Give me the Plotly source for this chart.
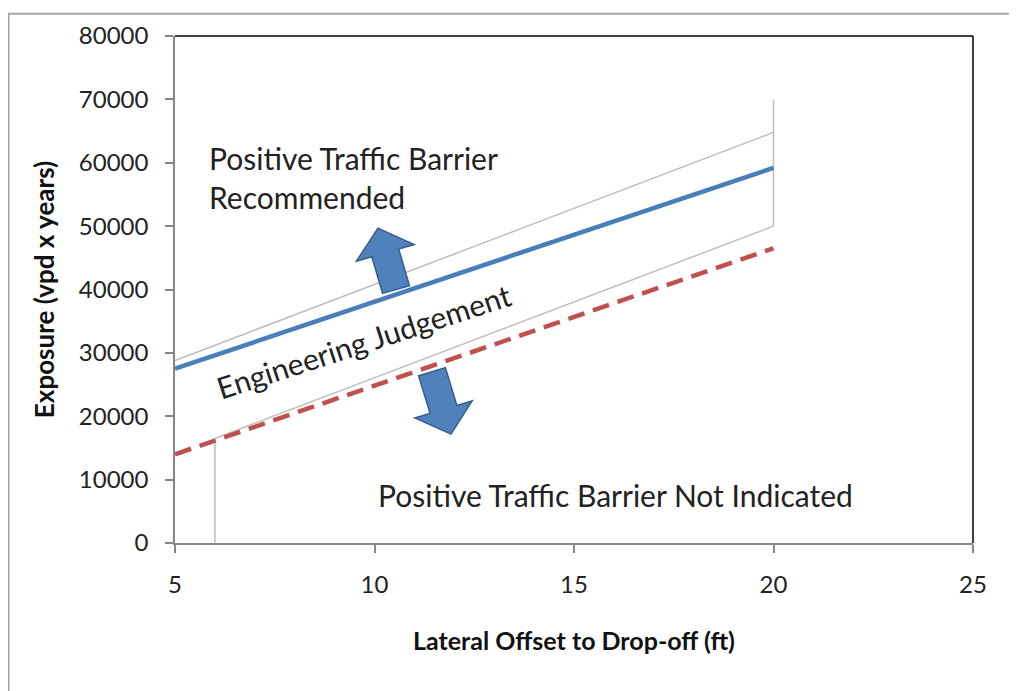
import math
import plotly.graph_objects as go

# ---- data ----
offset_x = [5, 20]
threshold_y = [27500, 59200]          # blue solid
upper_x = [5, 20]
upper_y = [28800, 64800]              # upper thin gray
lower_x = [6, 20]
lower_y = [16500, 50000]              # lower thin gray
not_ind_x = [5, 20]
not_ind_y = [14000, 46500]            # red dashed
vert_right_x = [20, 20]
vert_right_y = [50000, 70000]
vert_left_x = [6, 6]
vert_left_y = [0, 16500]

x_ticks = [5, 10, 15, 20, 25]
y_ticks = [0, 10000, 20000, 30000, 40000, 50000, 60000, 70000, 80000]

# page has an 8px body margin
OFF = 8
W, H = 1017, 691
ML, MT = 175 - OFF, 31 - OFF
MR = W - (973 - OFF)
MB = H - (543 - OFF)
PW, PH = W - ML - MR, H - MT - MB

def px2paper(px, py):
    # px, py in page pixels
    fx, fy = px - OFF, py - OFF
    return (fx - ML) / PW, (H - MB - fy) / PH

def block_arrow(bx, by, tx, ty, head_w=60, head_l=26, shaft_w=28):
    dx, dy = tx - bx, ty - by
    L = math.hypot(dx, dy)
    ux, uy = dx / L, dy / L
    nx, ny = -uy, ux
    pts_local = [(-shaft_w / 2, 0), (-shaft_w / 2, L - head_l), (-head_w / 2, L - head_l),
                 (0, L), (head_w / 2, L - head_l), (shaft_w / 2, L - head_l), (shaft_w / 2, 0)]
    path = ""
    for i, (a, b) in enumerate(pts_local):
        px = bx + nx * a + ux * b
        py = by + ny * a + uy * b
        xp, yp = px2paper(px, py)
        path += ("M" if i == 0 else "L") + f"{xp:.5f},{yp:.5f} "
    return path + "Z"

GRAY = "#BDBDBD"
BLUE = "#4A7EBB"
RED = "#C0504D"

fig = go.Figure()
fig.add_trace(go.Scatter(x=upper_x, y=upper_y, mode="lines", line=dict(color=GRAY, width=1.5), hoverinfo="skip"))
fig.add_trace(go.Scatter(x=lower_x, y=lower_y, mode="lines", line=dict(color=GRAY, width=1.5), hoverinfo="skip"))
fig.add_trace(go.Scatter(x=vert_right_x, y=vert_right_y, mode="lines", line=dict(color=GRAY, width=1.5), hoverinfo="skip"))
fig.add_trace(go.Scatter(x=vert_left_x, y=vert_left_y, mode="lines", line=dict(color=GRAY, width=1.5), hoverinfo="skip"))
fig.add_trace(go.Scatter(x=not_ind_x, y=not_ind_y, mode="lines", line=dict(color=RED, width=4.5, dash="17px,9px"), hoverinfo="skip"))
fig.add_trace(go.Scatter(x=offset_x, y=threshold_y, mode="lines", line=dict(color=BLUE, width=4.5), hoverinfo="skip"))

shapes = [
    # outer frame
    dict(type="rect", xref="paper", yref="paper",
         x0=px2paper(8.5, 0)[0], x1=px2paper(1010, 0)[0],
         y0=px2paper(0, 730)[1], y1=px2paper(0, 8.5)[1],
         line=dict(color="#A6A6A6", width=2), layer="below"),
    # top and right black border
    dict(type="line", xref="paper", yref="paper", x0=0, x1=1, y0=1, y1=1, line=dict(color="black", width=1.5)),
    dict(type="line", xref="paper", yref="paper", x0=1, x1=1, y0=0, y1=1, line=dict(color="black", width=1.5)),
    # block arrows
    dict(type="path", xref="paper", yref="paper", path=block_arrow(396, 287, 378, 225),
         fillcolor="#4F81BD", line=dict(color="#385D8A", width=1.5)),
    dict(type="path", xref="paper", yref="paper", path=block_arrow(432, 370, 451, 433),
         fillcolor="#4F81BD", line=dict(color="#385D8A", width=1.5)),
]

FONT = "Lato, Carlito, Calibri, sans-serif"
annotations = [
    dict(x=5.8, y=57700, xref="x", yref="y", text="Positive Traffic Barrier<br>Recommended",
         showarrow=False, xanchor="left", yanchor="middle", align="left",
         font=dict(family=FONT, size=30, color="#222")),
    dict(x=9.72, y=31900, xref="x", yref="y", text="Engineering Judgement",
         showarrow=False, textangle=-18, font=dict(family=FONT, size=30, color="#222")),
    dict(x=16.03, y=7500, xref="x", yref="y", text="Positive Traffic Barrier Not Indicated",
         showarrow=False, font=dict(family=FONT, size=30, color="#222")),
]

fig.update_layout(
    width=W, height=H,
    margin=dict(l=ML, r=MR, t=MT, b=MB),
    paper_bgcolor="white", plot_bgcolor="white",
    showlegend=False,
    shapes=shapes, annotations=annotations,
    font=dict(family=FONT, color="#222"),
    xaxis=dict(range=[5, 25], tickvals=x_ticks, ticktext=[str(v) for v in x_ticks],
               showgrid=False, zeroline=False, showline=True, linecolor="#868686", linewidth=1.5,
               ticks="outside", ticklen=8, tickcolor="#868686", tickwidth=1.5,
               ticklabelstandoff=11, tickfont=dict(size=24, family=FONT, color="#222"),
               title=dict(text="<b>Lateral Offset to Drop-off (ft)</b>", standoff=36,
                          font=dict(size=25, family=FONT, color="#111"))),
    yaxis=dict(range=[0, 80000], tickvals=y_ticks, ticktext=[str(v) for v in y_ticks],
               showgrid=False, zeroline=False, showline=True, linecolor="#868686", linewidth=1.5,
               ticks="outside", ticklen=8, tickcolor="#868686", tickwidth=1.5,
               ticklabelstandoff=12, tickfont=dict(size=24, family=FONT, color="#222"),
               title=dict(text="<b>Exposure (vpd x years)</b>", standoff=17,
                          font=dict(size=26, family=FONT, color="#111"))),
)

fig.write_html("out.html")
